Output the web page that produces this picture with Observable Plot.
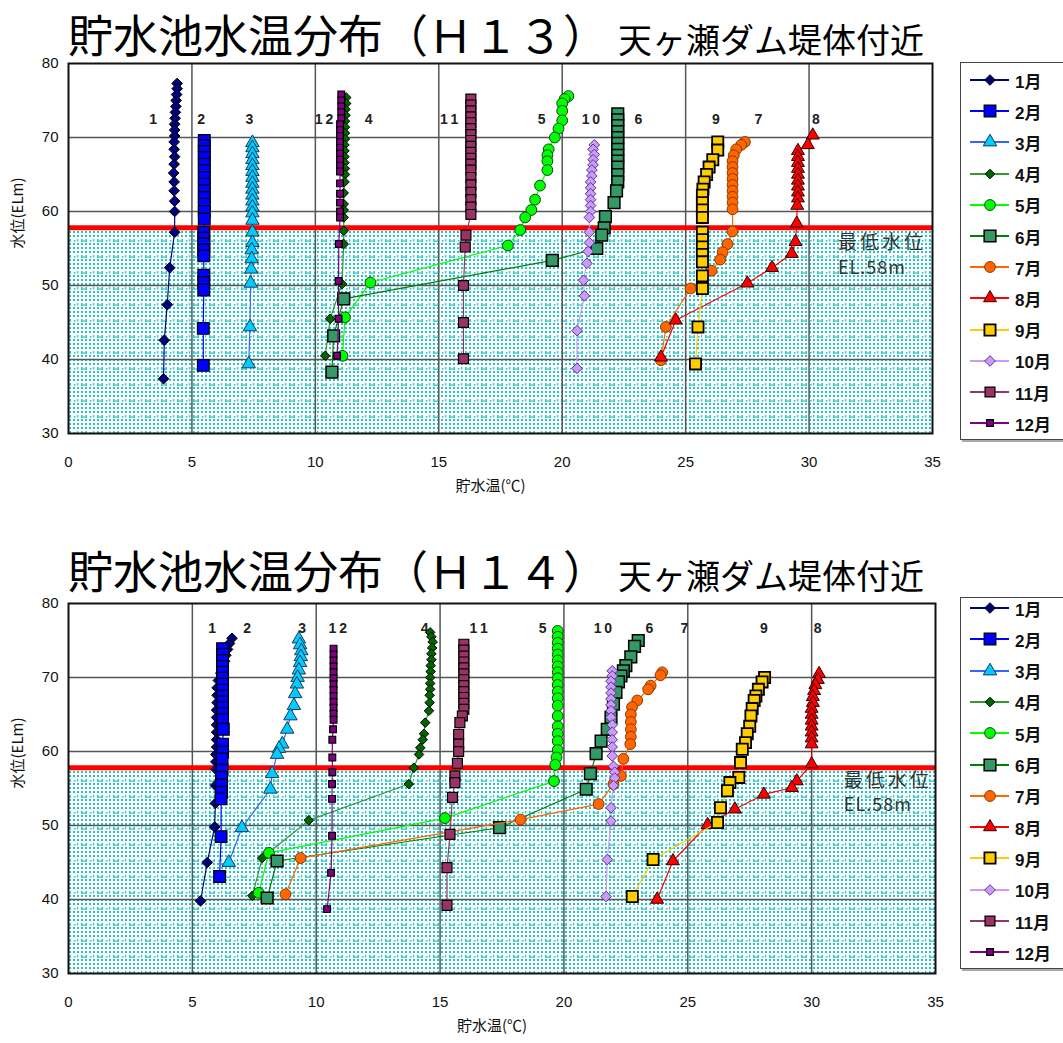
<!DOCTYPE html>
<html><head><meta charset="utf-8">
<script src="https://cdn.jsdelivr.net/npm/d3@7"></script>
<script src="https://cdn.jsdelivr.net/npm/@observablehq/plot@0.6"></script>
<style>
html,body{margin:0;padding:0;background:#fff;overflow:hidden;}
#root{position:relative;width:1063px;height:1043px;overflow:hidden;font-family:"Noto Sans CJK JP",sans-serif;}
.title{position:absolute;left:68px;font-size:45px;line-height:normal;white-space:nowrap;color:#000;}
.title span{font-size:34px;margin-left:10px;}
.panel{position:absolute;left:0;}
.legend{position:absolute;left:960px;width:110px;border:1.5px solid #444;background:#fff;box-shadow:2px 2px 0 #aaa;}
.legend .row{position:absolute;left:0;height:20px;display:flex;align-items:center;}
.legend .lab{font-family:"Liberation Sans","Noto Sans CJK JP",sans-serif;font-weight:bold;font-size:17px;margin-left:4px;color:#111;}
</style></head>
<body><div id="root">
<div class="title" style="top:1px">貯水池水温分布（Ｈ１３）<span>天ヶ瀬ダム堤体付近</span></div>
<div class="title" style="top:537px">貯水池水温分布（Ｈ１４）<span>天ヶ瀬ダム堤体付近</span></div>
</div>
<script>
// ---------- data: [temperature ℃, elevation EL m] ----------
const h13m1 = [[4.40,77.3],[4.40,76.6],[4.38,75.8],[4.36,75.0],[4.35,74.2],[4.33,73.4],[4.32,72.6],[4.30,71.8],[4.30,71.0],[4.30,70.2],[4.28,69.4],[4.28,68.4],[4.30,67.4],[4.28,66.4],[4.26,65.2],[4.28,64.0],[4.28,62.8],[4.30,61.4],[4.30,60.0],[4.30,57.2],[4.10,52.4],[4.00,47.4],[3.88,42.6],[3.85,37.4]];
const h13m2 = [[5.50,69.6],[5.50,68.9],[5.50,68.1],[5.50,67.3],[5.50,66.4],[5.50,65.5],[5.50,64.6],[5.50,63.7],[5.50,62.8],[5.50,61.9],[5.50,61.0],[5.50,60.0],[5.50,59.0],[5.48,57.2],[5.48,56.4],[5.48,55.6],[5.48,54.8],[5.48,54.0],[5.48,51.4],[5.48,50.4],[5.48,49.4],[5.46,44.2],[5.46,39.2]];
const h13m3 = [[7.45,69.3],[7.45,68.6],[7.45,67.8],[7.45,67.0],[7.45,66.2],[7.45,65.4],[7.45,64.6],[7.45,63.8],[7.45,63.0],[7.45,62.2],[7.45,61.4],[7.45,60.6],[7.45,59.8],[7.45,58.8],[7.45,57.2],[7.45,55.8],[7.42,54.8],[7.42,53.6],[7.40,52.2],[7.38,50.3],[7.35,44.4],[7.30,39.4]];
const h13m4 = [[11.25,75.4],[11.25,74.6],[11.22,73.8],[11.22,73.0],[11.20,72.2],[11.20,71.4],[11.20,70.6],[11.20,69.8],[11.18,69.0],[11.18,68.2],[11.18,67.4],[11.18,66.6],[11.20,65.8],[11.20,65.0],[11.18,64.0],[11.15,62.5],[11.15,61.0],[11.15,60.2],[11.15,59.2],[11.15,57.4],[11.15,55.6],[11.08,50.2],[10.60,45.5],[10.40,40.5]];
const h13m5 = [[20.25,75.6],[20.10,75.2],[20.00,74.6],[20.00,73.6],[20.00,72.3],[19.85,71.2],[19.70,70.0],[19.45,68.4],[19.40,67.6],[19.40,66.8],[19.40,65.6],[19.10,63.5],[18.90,61.6],[18.75,60.2],[18.50,59.2],[18.30,57.5],[17.80,55.4],[12.23,50.4],[11.20,45.7],[11.10,40.5]];
const h13m6 = [[22.25,73.2],[22.25,72.4],[22.25,71.6],[22.25,70.8],[22.25,70.0],[22.25,69.2],[22.25,68.4],[22.25,67.6],[22.25,66.8],[22.25,66.0],[22.25,65.0],[22.25,64.0],[22.20,62.8],[22.10,61.2],[21.75,59.3],[21.70,57.8],[21.60,56.8],[21.40,55.0],[19.60,53.4],[11.15,48.2],[10.74,43.2],[10.67,38.3]];
const h13m7 = [[27.40,69.4],[27.25,69.0],[27.05,68.4],[26.95,67.6],[26.90,66.8],[26.90,66.0],[26.90,65.2],[26.90,64.4],[26.90,63.6],[26.90,62.8],[26.90,62.0],[26.90,61.2],[26.90,60.3],[26.90,57.3],[26.70,55.6],[26.50,54.5],[26.40,53.5],[26.05,52.0],[25.20,49.6],[24.20,44.4],[24.00,39.9]];
const h13m8 = [[30.15,70.3],[29.95,69.0],[29.55,68.2],[29.55,67.4],[29.55,66.6],[29.55,65.8],[29.55,65.0],[29.55,64.2],[29.55,63.4],[29.55,62.6],[29.55,61.8],[29.52,60.8],[29.50,58.4],[29.45,55.9],[29.30,54.3],[28.50,52.4],[27.50,50.3],[24.60,45.3],[24.00,40.3]];
const h13m9 = [[26.30,69.4],[26.30,68.3],[26.10,67.0],[25.95,66.0],[25.85,65.0],[25.75,64.0],[25.70,63.0],[25.68,62.2],[25.68,61.2],[25.68,60.2],[25.68,59.2],[25.68,57.2],[25.68,56.2],[25.68,55.2],[25.68,54.2],[25.68,53.2],[25.68,51.3],[25.68,49.6],[25.50,44.4],[25.40,39.4]];
const h13m10 = [[21.30,69.0],[21.25,68.4],[21.30,67.7],[21.25,67.0],[21.25,66.3],[21.20,65.6],[21.20,64.8],[21.15,64.0],[21.15,63.2],[21.15,62.4],[21.15,61.6],[21.15,60.8],[21.15,60.0],[21.10,59.2],[21.10,57.2],[21.10,55.8],[21.05,54.6],[21.00,53.0],[20.86,50.7],[20.90,48.6],[20.60,43.9],[20.60,38.8]];
const h13m11 = [[16.30,75.2],[16.30,74.4],[16.30,73.6],[16.30,72.8],[16.30,72.0],[16.30,71.2],[16.30,70.4],[16.30,69.6],[16.30,68.8],[16.30,68.0],[16.30,67.2],[16.30,66.4],[16.30,65.6],[16.30,64.6],[16.30,63.6],[16.30,62.6],[16.30,61.6],[16.30,60.6],[16.30,59.6],[16.10,56.8],[16.07,55.2],[16.00,50.0],[16.00,45.0],[16.00,40.1]];
const h13m12 = [[11.05,75.8],[11.05,75.0],[11.05,74.2],[11.05,73.4],[11.05,72.6],[11.00,71.8],[11.00,71.0],[11.00,70.2],[11.00,69.4],[11.00,68.6],[11.00,67.8],[11.00,67.0],[11.00,66.2],[11.00,65.4],[11.00,63.8],[11.00,62.4],[11.00,61.2],[11.00,60.0],[11.00,59.2],[10.95,55.6],[10.94,50.6],[10.94,45.5],[10.88,40.5]];

const h14m1 = [[6.60,75.3],[6.50,74.6],[6.42,73.8],[6.35,73.0],[6.30,72.2],[6.22,71.4],[6.15,70.6],[6.05,69.6],[6.00,68.6],[6.00,67.6],[6.00,66.6],[5.98,65.6],[5.98,64.6],[5.98,63.6],[5.98,62.6],[5.98,61.6],[5.98,60.6],[5.95,59.6],[5.95,58.6],[5.95,57.6],[5.93,55.4],[5.93,53.0],[5.90,49.8],[5.60,45.0],[5.33,39.8]];
const h14m2 = [[6.22,73.9],[6.22,73.1],[6.22,72.3],[6.22,71.5],[6.22,70.7],[6.22,69.9],[6.22,69.1],[6.22,68.3],[6.22,67.5],[6.22,66.7],[6.22,65.9],[6.22,65.1],[6.22,64.3],[6.25,63.0],[6.22,61.0],[6.22,59.9],[6.20,59.0],[6.20,57.5],[6.18,56.5],[6.18,55.5],[6.18,54.5],[6.16,53.6],[6.16,48.5],[6.10,43.1]];
const h14m3 = [[9.30,75.2],[9.35,74.4],[9.40,73.6],[9.38,72.8],[9.35,72.0],[9.30,71.0],[9.25,70.0],[9.22,69.1],[9.15,67.8],[9.10,66.2],[8.96,64.8],[8.83,63.0],[8.63,61.0],[8.50,60.4],[8.42,59.6],[8.22,57.0],[8.15,54.9],[7.00,49.7],[6.47,45.0]];
const h14m4 = [[14.60,76.1],[14.65,75.5],[14.70,74.8],[14.68,74.0],[14.65,73.2],[14.65,72.4],[14.62,71.6],[14.62,70.8],[14.60,70.0],[14.60,69.2],[14.60,68.4],[14.58,67.6],[14.58,66.6],[14.55,65.5],[14.40,63.9],[14.35,62.4],[14.30,61.6],[14.20,60.5],[14.15,59.6],[13.94,57.8],[13.74,55.6],[9.70,50.7],[7.82,45.6],[7.42,40.5]];
const h14m5 = [[19.75,76.3],[19.75,75.5],[19.75,74.7],[19.75,73.9],[19.75,73.1],[19.75,72.3],[19.75,71.5],[19.75,70.7],[19.75,69.9],[19.75,69.0],[19.75,68.1],[19.75,67.2],[19.75,66.2],[19.75,64.8],[19.75,63.4],[19.75,62.4],[19.75,61.4],[19.75,60.2],[19.70,59.2],[19.65,58.2],[19.60,56.0],[15.20,51.0],[8.09,46.3],[7.68,40.9]];
const h14m6 = [[23.00,75.0],[22.85,74.2],[22.70,72.8],[22.50,71.6],[22.40,70.9],[22.30,70.2],[22.20,69.4],[22.10,68.0],[22.00,66.4],[21.90,64.6],[21.75,63.0],[21.50,61.4],[21.30,59.7],[21.07,57.0],[20.90,54.9],[17.40,49.7],[8.42,45.2],[8.02,40.2]];
const h14m7 = [[23.97,70.7],[23.90,70.3],[23.50,68.9],[23.40,68.4],[22.96,66.9],[22.75,66.0],[22.70,65.0],[22.70,64.0],[22.70,63.0],[22.70,62.0],[22.68,61.0],[22.40,59.0],[22.30,56.7],[22.00,55.6],[21.40,52.9],[18.25,50.8],[9.37,45.6],[8.76,40.7]];
const h14m8 = [[30.30,70.5],[30.25,69.7],[30.15,69.0],[30.10,68.2],[30.05,67.4],[30.05,66.6],[30.00,65.8],[30.00,65.0],[30.00,64.2],[30.00,63.4],[30.00,62.6],[30.00,61.8],[30.00,61.0],[30.00,58.3],[29.40,56.0],[29.20,55.1],[28.07,54.2],[26.90,52.2],[25.80,50.1],[24.40,45.2],[23.76,40.0]];
const h14m9 = [[28.10,70.0],[28.00,69.4],[27.85,68.4],[27.75,67.5],[27.68,66.9],[27.60,65.8],[27.55,64.8],[27.50,63.4],[27.40,62.4],[27.33,61.2],[27.20,60.3],[27.13,58.5],[27.06,56.5],[26.70,55.8],[26.60,54.7],[26.32,52.4],[26.20,50.4],[23.60,45.4],[22.76,40.4]];
const h14m10 = [[21.95,70.9],[21.95,70.2],[21.90,69.5],[21.90,68.7],[21.90,67.9],[21.90,67.1],[21.90,66.3],[21.90,65.5],[21.90,64.6],[21.95,63.6],[21.95,62.6],[21.95,61.6],[21.95,60.6],[21.95,59.4],[22.00,58.0],[22.05,57.2],[22.05,56.4],[22.00,55.4],[21.90,52.4],[21.90,50.6],[21.75,45.4],[21.70,40.4]];
const h14m11 = [[15.96,74.5],[15.96,73.7],[15.96,72.9],[15.96,72.1],[15.96,71.3],[15.96,70.5],[15.96,69.7],[15.96,68.9],[15.96,68.1],[15.96,67.3],[15.96,66.5],[15.96,65.7],[15.90,64.8],[15.80,63.9],[15.75,62.3],[15.75,61.0],[15.75,60.0],[15.70,58.4],[15.60,56.7],[15.60,55.8],[15.50,53.8],[15.40,48.8],[15.28,44.3],[15.28,39.2]];
const h14m12 = [[10.70,73.9],[10.70,73.1],[10.70,72.3],[10.70,71.5],[10.70,70.7],[10.70,69.9],[10.70,69.1],[10.70,68.3],[10.70,67.5],[10.70,66.7],[10.70,65.9],[10.70,65.1],[10.70,64.3],[10.68,63.0],[10.65,61.6],[10.65,59.2],[10.65,57.2],[10.64,55.6],[10.64,53.6],[10.64,48.6],[10.60,43.6],[10.44,38.7]];

const months = ["1月","2月","3月","4月","5月","6月","7月","8月","9月","10月","11月","12月"];
const xTicks = [0,5,10,15,20,25,30,35];
const yTicks = [30,40,50,60,70,80];
const xGrid = [5,10,15,20,25,30];
const yGrid = [40,50,60,70];
const minLevel = 57.8;               // 最低水位 EL.58m (drawn line)
const bottomLevel = 30;

// month labels above the profiles
const labH13Text = ["1","2","3","1\u20092","4","1\u20091","5","1\u20090","6","9","7","8"];
const labH13X = [3.43,5.37,7.33,10.35,12.16,15.42,19.17,21.16,23.09,26.23,27.95,30.28];
const labH13Y = 72.4;
const labH14Text = ["1","2","3","1\u20092","4","1\u20091","5","1\u20090","6","7","9","8"];
const labH14X = [5.8,7.21,9.43,10.87,14.38,16.56,19.14,21.57,23.45,24.86,28.07,30.24];
const labH14Y = 76.6;

const annoText = ["最低水位","EL.58m"];
const annoH13 = [[31.17,55.7],[31.17,52.4]];
const annoH14 = [[31.3,56.0],[31.3,52.7]];

// ---------- styles ----------
const lineColors = ["#000080","#0000ff","#3366ff","#339933","#00ff00","#008000","#ff6600","#ff0000","#ffcc00","#cc99ff","#993366","#800080"];
const fills = ["#000080","#0000ff","#00ccff","#006600","#00ff00","#339966","#ff6600","#ff0000","#ffcc00","#cc99ff","#993366","#800080"];
const strokes = ["#000","#000","#1a3a5a","#000","#114411","#000","#8a3a00","#300","#000","#5a3a80","#000","#000"];
const strokeW = [1,1.2,1,1,1,1.5,1,1,1.8,1,1.2,1.2];
const symbols = ["diamond2","square","triangle","diamond2","circle","square","circle","triangle","square","diamond2","square","square"];
const radii = [4.8,6.6,5.0,4.3,5.4,6.6,5.4,4.8,6.3,4.8,5.6,3.8];
const symMap = {diamond2: d3.symbolDiamond2, square: d3.symbolSquare, triangle: d3.symbolTriangle, circle: d3.symbolCircle};

function addPattern(svg, pid) {
  const defs = d3.select(svg).insert("defs", ":first-child");
  const p = defs.append("pattern").attr("id", pid).attr("patternUnits", "userSpaceOnUse").attr("width", 16).attr("height", 16);
  p.append("rect").attr("width", 16).attr("height", 16).attr("fill", "#fff");
  const c = "#22c4c4";
  for (const yy of [1, 5, 9]) for (const xx of [1, 5, 9, 13]) {
    p.append("rect").attr("x", xx).attr("y", yy).attr("width", 2).attr("height", 2).attr("fill", c);
  }
  p.append("rect").attr("x", 1).attr("y", 13).attr("width", 1.5).attr("height", 2.5).attr("fill", c);
  p.append("rect").attr("x", 1).attr("y", 14.5).attr("width", 6).attr("height", 1.2).attr("fill", c);
  p.append("rect").attr("x", 5.5).attr("y", 13).attr("width", 1.5).attr("height", 2.5).attr("fill", c);
  p.append("rect").attr("x", 10).attr("y", 14).attr("width", 1.5).attr("height", 1.5).attr("fill", c);
  p.append("rect").attr("x", 13).attr("y", 13).attr("width", 1.2).attr("height", 2.5).attr("fill", c);
}

function panel(series, labText, labX, labY, anno, pid, marginRight, top) {
  const shade = [{x1: xTicks[0], x2: xTicks[xTicks.length-1], y1: bottomLevel, y2: minLevel}];
  const marks = [
    Plot.rect(shade, {x1: "x1", x2: "x2", y1: "y1", y2: "y2", fill: `url(#${pid})`}),
    Plot.ruleX(xGrid, {stroke: "#555", strokeWidth: 1.5}),
    Plot.ruleY(yGrid, {stroke: "#555", strokeWidth: 1.5}),
    Plot.ruleY([minLevel], {stroke: "#ff0000", strokeWidth: 5})
  ];
  series.forEach((data, i) => {
    marks.push(Plot.line(data, {x: d => d[0], y: d => d[1], stroke: lineColors[i], strokeWidth: 1.2}));
    marks.push(Plot.dot(data, {x: d => d[0], y: d => d[1], symbol: symbols[i], r: radii[i], fill: fills[i], stroke: strokes[i], strokeWidth: strokeW[i]}));
  });
  marks.push(Plot.text(labText, {x: (d, i) => labX[i], y: () => labY, text: d => d, fontSize: 14, fontWeight: "bold", fill: "#222", fontFamily: "Liberation Sans, Arial, sans-serif"}));
  marks.push(Plot.text(annoText, {x: (d, i) => anno[i][0], y: (d, i) => anno[i][1], text: d => d, textAnchor: "start", fontSize: (d, i) => i === 0 ? 19 : 18, fill: "#333", fontFamily: "Noto Sans CJK JP, sans-serif"}));
  marks.push(Plot.frame({stroke: "#111", strokeWidth: 2}));
  marks.push(Plot.text(["水位(ELm)"], {frameAnchor: "left", dx: -50, rotate: -90, fontSize: 15, fill: "#111", fontFamily: "Noto Sans CJK JP, sans-serif"}));
  marks.push(Plot.text(["貯水温(℃)"], {frameAnchor: "bottom", dy: 57, dx: -10, fontSize: 15, fill: "#111", fontFamily: "Noto Sans CJK JP, sans-serif"}));

  const svg = Plot.plot({
    width: 950, height: 455,
    marginLeft: 68, marginRight, marginTop: 13, marginBottom: 72,
    x: {domain: [0, 35], ticks: xTicks, tickSize: 0, tickPadding: 23, label: null},
    y: {domain: [30, 80], ticks: yTicks, tickSize: 0, tickPadding: 10, label: null},
    style: {fontSize: "15px", fontFamily: "Liberation Sans, Arial, sans-serif", background: "transparent", color: "#111", overflow: "visible"},
    marks
  });
  addPattern(svg, pid);
  d3.select(svg).selectAll("text").filter(function(){ return this.textContent === "最低水位"; }).style("letter-spacing", "3px");
  d3.select(svg).selectAll("text").filter(function(){ return this.textContent === "EL.58m"; }).style("letter-spacing", "1px");
  const div = d3.select("#root").append("div").attr("class", "panel").style("top", top + "px");
  div.node().appendChild(svg);
}

function legend(top, height, firstY, step) {
  const box = d3.select("#root").append("div").attr("class", "legend").style("top", top + "px").style("height", height + "px");
  months.forEach((m, i) => {
    const row = box.append("div").attr("class", "row").style("top", (firstY + step * i - 10) + "px");
    const s = row.append("svg").attr("width", 50).attr("height", 20).style("overflow", "visible");
    s.append("line").attr("x1", 9).attr("x2", 48).attr("y1", 10).attr("y2", 10).attr("stroke", lineColors[i]).attr("stroke-width", 2);
    s.append("path").attr("d", d3.symbol(symMap[symbols[i]], Math.PI * radii[i] * radii[i])())
      .attr("transform", "translate(29,10)").attr("fill", fills[i]).attr("stroke", strokes[i]).attr("stroke-width", strokeW[i]);
    row.append("span").attr("class", "lab").text(m);
  });
}

panel([h13m1,h13m2,h13m3,h13m4,h13m5,h13m6,h13m7,h13m8,h13m9,h13m10,h13m11,h13m12], labH13Text, labH13X, labH13Y, annoH13, "dotsH13", 18, 50);
panel([h14m1,h14m2,h14m3,h14m4,h14m5,h14m6,h14m7,h14m8,h14m9,h14m10,h14m11,h14m12], labH14Text, labH14X, labH14Y, annoH14, "dotsH14", 15, 590);
legend(62, 376, 17, 31.2);
legend(597, 370, 10, 31.3);
</script>
</body></html>
